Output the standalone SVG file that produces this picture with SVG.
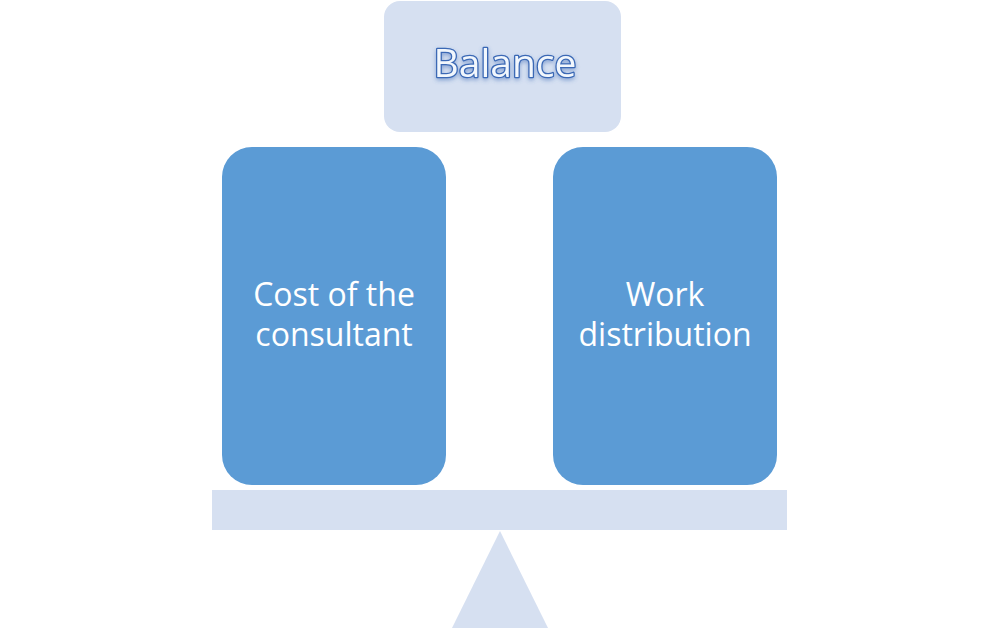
<svg xmlns="http://www.w3.org/2000/svg" width="1000" height="628" viewBox="0 0 1000 628">
<defs>
<style>
.light{fill:#d6e0f1}
.box{fill:#5b9bd5}
.t{font-family:"Open Sans","Liberation Sans",sans-serif;font-size:32px;fill:#ffffff;text-anchor:middle}
.title{font-family:"Open Sans","Liberation Sans",sans-serif;font-size:39px;fill:#f2f7fd;stroke:#3a68b5;stroke-width:2.6px;stroke-linejoin:round;text-anchor:middle;paint-order:stroke}
</style>
<filter id="glow" x="-20%" y="-40%" width="140%" height="180%">
<feGaussianBlur in="SourceAlpha" stdDeviation="2"/>
<feOffset dx="0" dy="1.5" result="b"/>
<feFlood flood-color="#3a68b5" flood-opacity="0.5"/>
<feComposite in2="b" operator="in"/>
<feMerge><feMergeNode/><feMergeNode in="SourceGraphic"/></feMerge>
</filter>
</defs>
<rect width="1000" height="628" fill="#ffffff"/>
<g id="balance">
<rect class="light" x="384" y="1" width="237" height="131" rx="16"/>
<text class="title" x="505" y="77" filter="url(#glow)">Balance</text>
</g>
<g id="cost">
<rect class="box" x="222" y="147" width="224" height="338" rx="30"/>
<text class="t" x="334" y="306">Cost of the</text>
<text class="t" x="334" y="346">consultant</text>
</g>
<g id="work">
<rect class="box" x="553" y="147" width="224" height="338" rx="30"/>
<text class="t" x="665" y="306">Work</text>
<text class="t" x="665" y="346">distribution</text>
</g>
<g id="beam">
<rect class="light" x="212" y="490" width="575" height="40"/>
</g>
<g id="fulcrum">
<polygon class="light" points="500,531 452,628 548,628"/>
</g>
<g id="connectors"></g>
</svg>
